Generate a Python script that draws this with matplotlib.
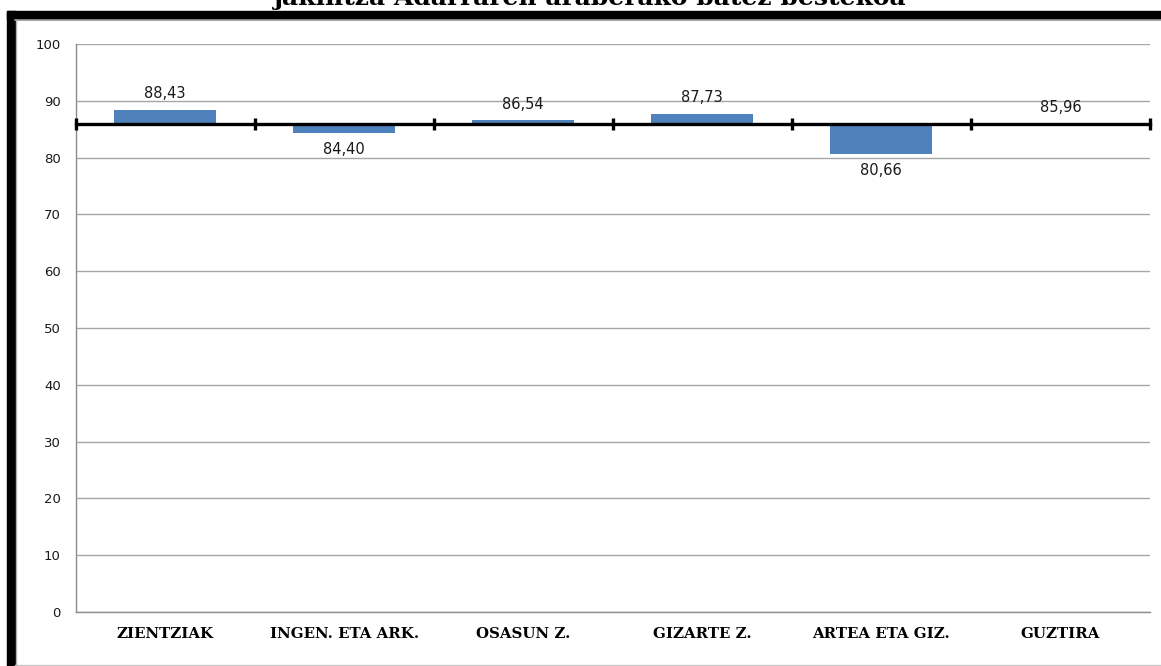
import matplotlib.pyplot as plt
from matplotlib.patches import Rectangle

categories = ['ZIENTZIAK', 'INGEN. ETA ARK.', 'OSASUN Z.', 'GIZARTE Z.', 'ARTEA ETA GIZ.', 'GUZTIRA']
values = [88.43, 84.40, 86.54, 87.73, 80.66, 85.96]
baseline = 85.96
title = 'jakintza Adarraren araberako batez bestekoa'

W, H = 1161, 666
fig = plt.figure(figsize=(W / 100, H / 100), dpi=100)

# frame: thick black top/left, thin grey inside
fig.patches.append(Rectangle((7 / W, 0), 8 / W, 1 - 11 / H, transform=fig.transFigure,
                             color='black', zorder=0))
fig.patches.append(Rectangle((7 / W, 1 - 18.5 / H), 1, 7.5 / H, transform=fig.transFigure,
                             color='black', zorder=0))
fig.add_artist(plt.Line2D([15 / W, 1], [1 - 19.5 / H] * 2, transform=fig.transFigure,
                          color='#9a9a9a', lw=1.2))
fig.add_artist(plt.Line2D([15.5 / W] * 2, [0, 1 - 19.5 / H], transform=fig.transFigure,
                          color='#b0b0b0', lw=1))
fig.add_artist(plt.Line2D([15 / W, 1], [1.0 / H] * 2, transform=fig.transFigure,
                          color='#c8c8c8', lw=1))

# title sits mostly above the picture, as in the source
fig.text(590 / W, 1 - 5 / H, title, ha='center', va='baseline',
         family='DejaVu Serif', fontweight='bold', fontsize=18)

ax = fig.add_axes([75.5 / W, 1 - 612 / H, (1150 - 75.5) / W, (612 - 44) / H])
x = list(range(len(categories)))
heights = [v - baseline for v in values]
ax.bar(x, heights, bottom=baseline, width=0.57, color='#4F81BD', zorder=2)

# category axis crossing at the average
bounds = [i - 0.5 for i in range(len(categories) + 1)]
ax.plot(bounds, [baseline] * len(bounds), color='black', lw=2.4, marker='|',
        markersize=9, mew=2.4, zorder=3, clip_on=False)

for xi, v in zip(x, values):
    off = 11.5 if v >= baseline else -12
    ax.annotate(f'{v:.2f}'.replace('.', ','), (xi, v), xytext=(0, off),
                textcoords='offset points', ha='center', va='center',
                fontsize=10.5, color='#1a1a1a', zorder=4)

ax.set_xlim(-0.5, 5.5)
ax.set_ylim(0, 100)
ax.set_yticks(range(0, 101, 10))
ax.set_xticks(x)
ax.set_xticklabels(categories, family='DejaVu Serif', fontweight='bold', fontsize=10.8)
ax.tick_params(axis='y', length=0, pad=10.5, labelsize=9.5, labelcolor='#1a1a1a')
ax.tick_params(axis='x', length=0, pad=10.5)
ax.yaxis.grid(True, color='#a6a6a6', lw=1)
ax.set_axisbelow(True)
for s in ['top', 'right']:
    ax.spines[s].set_visible(False)
for s in ['left', 'bottom']:
    ax.spines[s].set_color('#8c8c8c')
    ax.spines[s].set_linewidth(1)

fig.savefig('out.png', dpi=100)
